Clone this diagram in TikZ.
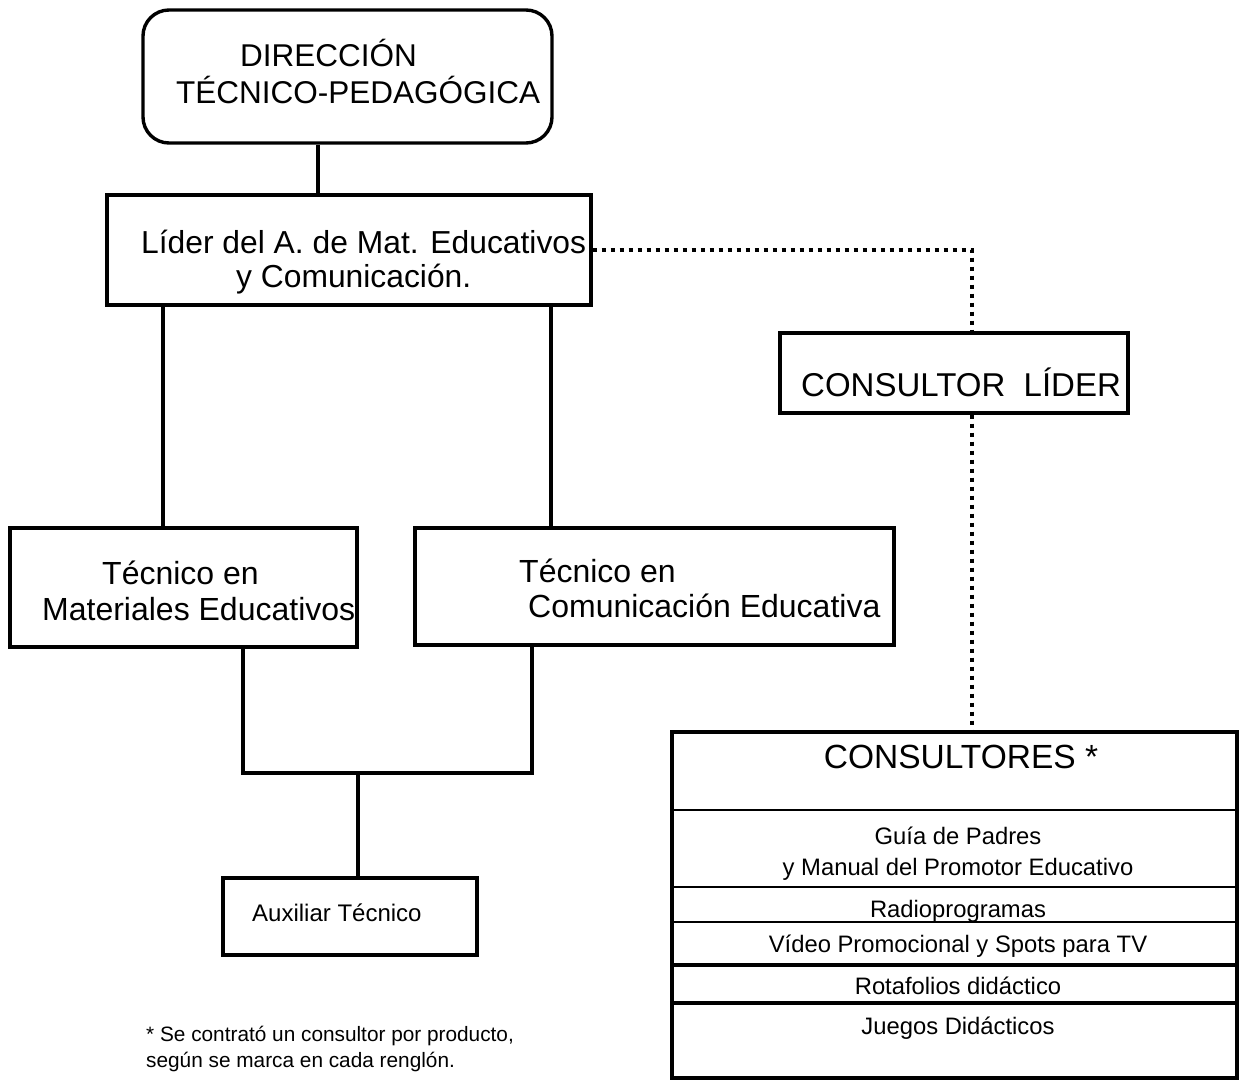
\documentclass[tikz,border=0pt]{standalone}
\usepackage{fontspec}
\setmainfont{Liberation Sans}
\newcommand\setfs[1]{\fontsize{#1}{#1}\selectfont}
\begin{document}
\begin{tikzpicture}[x=1pt,y=-1pt,
  box/.style={draw, line width=3.4pt, inner sep=0pt},
  conn/.style={line width=4.2pt},
  dotline/.style={line width=4pt, dash pattern=on 4pt off 5pt},
  txt/.style={inner sep=0pt, anchor=base west},
  ctxt/.style={inner sep=0pt, anchor=base},
  rowrule/.style={line width=2.6pt}]
\useasboundingbox (0,0) rectangle (1241,1080);
\fill[white] (0,0) rectangle (1241,1080);

% boxes
\node[box, rounded corners=26pt, minimum width=409pt, minimum height=133pt] (dir) at (347.5,76.5) {};
\node[box, minimum width=484pt, minimum height=110pt] (lider) at (349,250) {};
\node[box, minimum width=347pt, minimum height=119pt] (mat) at (183.5,587.5) {};
\node[box, minimum width=479pt, minimum height=117pt] (com) at (654.5,586.5) {};
\node[box, minimum width=348pt, minimum height=80pt] (cl) at (954,373) {};
\node[box, minimum width=254pt, minimum height=77pt] (aux) at (350,916.5) {};
\node[box, minimum width=565pt, minimum height=346pt] (cons) at (954.5,905) {};

% texts
\node[txt] (dirA) at (240,66) {\setfs{31.5}DIRECCIÓN};
\node[txt] (dirB) at (176,103) {\setfs{31.5}TÉCNICO-PEDAGÓGICA};
\node[txt] (lidA) at (141,253) {\setfs{31.8}Líder del A. de Mat. Educativos};
\node[txt] (lidB) at (236,287) {\setfs{31.8}y Comunicación.};
\node[txt] (matA) at (102,584) {\setfs{32}Técnico en};
\node[txt] (matB) at (42,620) {\setfs{32}Materiales Educativos};
\node[txt] (comA) at (519,582) {\setfs{32}Técnico en};
\node[txt] (comB) at (528,617) {\setfs{32}Comunicación Educativa};
\node[txt] (clT) at (801,396) {\setfs{33}CONSULTOR\ \ LÍDER};
\node[txt] (auxT) at (252,921) {\setfs{24}Auxiliar Técnico};
\node[txt] (noteA) at (146,1041) {\setfs{20.8}* Se contrató un consultor por producto,};
\node[txt] (noteB) at (146,1067) {\setfs{20.8}según se marca en cada renglón.};

% table
\node[ctxt] (hdr) at (961,768) {\setfs{33.5}CONSULTORES *};
\draw[rowrule] (cons.west |- 0,810) -- (cons.east |- 0,810);
\draw[rowrule] (cons.west |- 0,887) -- (cons.east |- 0,887);
\draw[rowrule] (cons.west |- 0,922) -- (cons.east |- 0,922);
\draw[rowrule, line width=3.6pt] (cons.west |- 0,965) -- (cons.east |- 0,965);
\draw[rowrule, line width=3.6pt] (cons.west |- 0,1003) -- (cons.east |- 0,1003);
\node[ctxt] (r1a) at (958,844) {\setfs{23.8}Guía de Padres};
\node[ctxt] (r1b) at (958,875) {\setfs{23.8}y Manual del Promotor Educativo};
\node[ctxt] (r2) at (958,917) {\setfs{23.8}Radioprogramas};
\node[ctxt] (r3) at (958,952) {\setfs{23.8}Vídeo Promocional y Spots para TV};
\node[ctxt] (r4) at (958,994) {\setfs{23.8}Rotafolios didáctico};
\node[ctxt] (r5) at (958,1034) {\setfs{23.8}Juegos Didácticos};

% connectors
\draw[conn] (dir.south -| 318,0) -- (lider.north -| 318,0);
\draw[conn] (lider.south -| 163,0) -- (mat.north -| 163,0);
\draw[conn] (lider.south -| 551,0) -- (com.north -| 551,0);
\draw[conn] (mat.south -| 243,0) -- (243,773) -- (532,773) -- (com.south -| 532,0);
\coordinate (jn) at (358,773);
\draw[conn] (jn) -- (aux.north -| jn);
\draw[dotline] (lider.east) -- (972,250) -- (cl.north -| 972,0);
\draw[dotline] (cl.south -| 972,0) -- (cons.north -| 972,0);
\end{tikzpicture}
\end{document}
